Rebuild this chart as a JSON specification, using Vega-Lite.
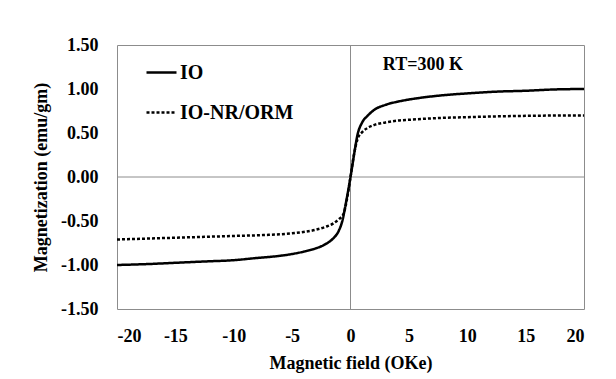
{
  "$schema": "https://vega.github.io/schema/vega-lite/v6.json",
  "width": 467,
  "height": 264,
  "autosize": {"type": "none"},
  "padding": {"left": 117, "top": 45, "right": 32, "bottom": 70},
  "background": "white",
  "config": {
    "font": "Liberation Serif",
    "view": {"stroke": "#8c8c8c", "strokeWidth": 1},
    "axis": {
      "labelFont": "Liberation Serif",
      "labelFontWeight": "bold",
      "labelFontSize": 18,
      "labelColor": "black",
      "titleFont": "Liberation Serif",
      "titleFontWeight": "bold",
      "titleFontSize": 18,
      "titleColor": "black",
      "grid": false,
      "ticks": false,
      "domain": false
    },
    "legend": {"labelFont": "Liberation Serif"},
    "text": {"font": "Liberation Serif"}
  },
  "datasets": {
    "curves": [
      {"field": -20, "m": -1.00, "series": "IO"},
      {"field": -17.5, "m": -0.99, "series": "IO"},
      {"field": -15, "m": -0.975, "series": "IO"},
      {"field": -12.5, "m": -0.96, "series": "IO"},
      {"field": -10, "m": -0.945, "series": "IO"},
      {"field": -8, "m": -0.92, "series": "IO"},
      {"field": -6, "m": -0.895, "series": "IO"},
      {"field": -5, "m": -0.875, "series": "IO"},
      {"field": -4, "m": -0.848, "series": "IO"},
      {"field": -3, "m": -0.812, "series": "IO"},
      {"field": -2.5, "m": -0.787, "series": "IO"},
      {"field": -2, "m": -0.752, "series": "IO"},
      {"field": -1.5, "m": -0.70, "series": "IO"},
      {"field": -1, "m": -0.61, "series": "IO"},
      {"field": -0.7, "m": -0.50, "series": "IO"},
      {"field": -0.4, "m": -0.30, "series": "IO"},
      {"field": 0, "m": 0, "series": "IO"},
      {"field": 0.3, "m": 0.25, "series": "IO"},
      {"field": 0.6, "m": 0.48, "series": "IO"},
      {"field": 1, "m": 0.62, "series": "IO"},
      {"field": 1.5, "m": 0.70, "series": "IO"},
      {"field": 2, "m": 0.76, "series": "IO"},
      {"field": 3, "m": 0.82, "series": "IO"},
      {"field": 4, "m": 0.855, "series": "IO"},
      {"field": 5, "m": 0.88, "series": "IO"},
      {"field": 6, "m": 0.90, "series": "IO"},
      {"field": 8, "m": 0.93, "series": "IO"},
      {"field": 10, "m": 0.95, "series": "IO"},
      {"field": 12.5, "m": 0.97, "series": "IO"},
      {"field": 15, "m": 0.98, "series": "IO"},
      {"field": 17.5, "m": 0.995, "series": "IO"},
      {"field": 20, "m": 1.00, "series": "IO"},
      {"field": -20, "m": -0.71, "series": "IO-NR/ORM"},
      {"field": -17.5, "m": -0.70, "series": "IO-NR/ORM"},
      {"field": -15, "m": -0.69, "series": "IO-NR/ORM"},
      {"field": -12.5, "m": -0.68, "series": "IO-NR/ORM"},
      {"field": -10, "m": -0.67, "series": "IO-NR/ORM"},
      {"field": -7.5, "m": -0.66, "series": "IO-NR/ORM"},
      {"field": -5, "m": -0.64, "series": "IO-NR/ORM"},
      {"field": -3, "m": -0.60, "series": "IO-NR/ORM"},
      {"field": -2, "m": -0.56, "series": "IO-NR/ORM"},
      {"field": -1.5, "m": -0.53, "series": "IO-NR/ORM"},
      {"field": -1, "m": -0.48, "series": "IO-NR/ORM"},
      {"field": -0.6, "m": -0.42, "series": "IO-NR/ORM"},
      {"field": -0.3, "m": -0.25, "series": "IO-NR/ORM"},
      {"field": 0, "m": 0, "series": "IO-NR/ORM"},
      {"field": 0.3, "m": 0.26, "series": "IO-NR/ORM"},
      {"field": 0.6, "m": 0.43, "series": "IO-NR/ORM"},
      {"field": 1, "m": 0.51, "series": "IO-NR/ORM"},
      {"field": 1.5, "m": 0.56, "series": "IO-NR/ORM"},
      {"field": 2, "m": 0.59, "series": "IO-NR/ORM"},
      {"field": 3, "m": 0.62, "series": "IO-NR/ORM"},
      {"field": 4, "m": 0.64, "series": "IO-NR/ORM"},
      {"field": 5, "m": 0.65, "series": "IO-NR/ORM"},
      {"field": 7.5, "m": 0.67, "series": "IO-NR/ORM"},
      {"field": 10, "m": 0.68, "series": "IO-NR/ORM"},
      {"field": 15, "m": 0.695, "series": "IO-NR/ORM"},
      {"field": 20, "m": 0.70, "series": "IO-NR/ORM"}
    ],
    "zero": [{"v": 0}],
    "notes": [{"field": 6.2, "m": 1.27, "text": "RT=300 K"}]
  },
  "layer": [
    {
      "data": {"name": "zero"},
      "mark": {"type": "rule", "color": "#8c8c8c", "strokeWidth": 1},
      "encoding": {"x": {"field": "v", "type": "quantitative"}}
    },
    {
      "data": {"name": "zero"},
      "mark": {"type": "rule", "color": "#8c8c8c", "strokeWidth": 1},
      "encoding": {"y": {"field": "v", "type": "quantitative"}}
    },
    {
      "data": {"name": "curves"},
      "mark": {"type": "line", "color": "black", "strokeWidth": 2.5, "interpolate": "monotone"},
      "encoding": {
        "x": {
          "field": "field", "type": "quantitative",
          "scale": {"domain": [-20, 20], "nice": false},
          "axis": {"values": [-20, -15, -10, -5, 0, 5, 10, 15, 20], "labelExpr": "replace(datum.label, '\u2212', '-')", "title": "Magnetic field (OKe)", "labelPadding": 18, "titlePadding": 9}
        },
        "y": {
          "field": "m", "type": "quantitative",
          "scale": {"domain": [-1.5, 1.5], "nice": false},
          "axis": {"values": [-1.5, -1, -0.5, 0, 0.5, 1, 1.5], "format": ".2f", "labelExpr": "replace(datum.label, '\u2212', '-')", "title": "Magnetization (emu/gm)", "labelPadding": 19, "titlePadding": 10}
        },
        "strokeDash": {
          "field": "series", "type": "nominal",
          "scale": {"domain": ["IO", "IO-NR/ORM"], "range": [[1, 0], [3, 2]]},
          "legend": {
            "title": null,
            "orient": "none",
            "legendX": 28,
            "legendY": 11,
            "symbolType": "stroke",
            "symbolSize": 900,
            "symbolStrokeWidth": 2.5,
            "symbolStrokeColor": "black",
            "labelFont": "Liberation Serif",
            "labelFontWeight": "bold",
            "labelFontSize": 20,
            "labelColor": "black",
            "labelOffset": 2,
            "rowPadding": 13
          }
        },
        "detail": {"field": "series"}
      }
    },
    {
      "data": {"name": "notes"},
      "mark": {"type": "text", "font": "Liberation Serif", "fontWeight": "bold", "fontSize": 18, "color": "black"},
      "encoding": {
        "x": {"field": "field", "type": "quantitative"},
        "y": {"field": "m", "type": "quantitative"},
        "text": {"field": "text"}
      }
    }
  ]
}
